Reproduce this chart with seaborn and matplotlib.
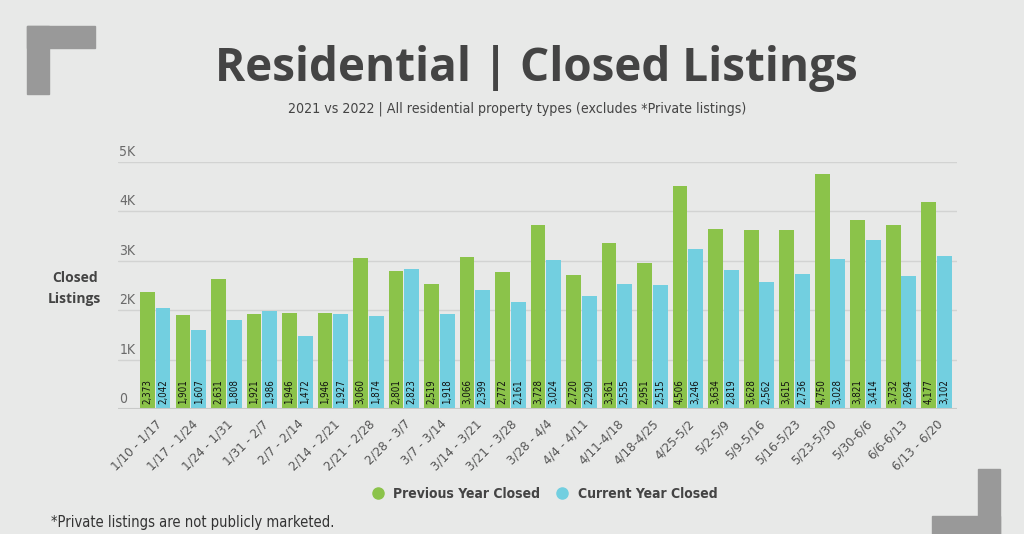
import pandas as pd
import matplotlib.pyplot as plt
import seaborn as sns
from matplotlib.patches import Rectangle
from matplotlib.lines import Line2D

weeks = ["1/10 - 1/17", "1/17 - 1/24", "1/24 - 1/31", "1/31 - 2/7", "2/7 - 2/14",
         "2/14 - 2/21", "2/21 - 2/28", "2/28 - 3/7", "3/7 - 3/14", "3/14 - 3/21",
         "3/21 - 3/28", "3/28 - 4/4", "4/4 - 4/11", "4/11-4/18", "4/18-4/25",
         "4/25-5/2", "5/2-5/9", "5/9-5/16", "5/16-5/23", "5/23-5/30",
         "5/30-6/6", "6/6-6/13", "6/13 - 6/20"]
prev_year = [2373, 1901, 2631, 1921, 1946, 1946, 3060, 2801, 2519, 3066, 2772,
             3728, 2720, 3361, 2951, 4506, 3634, 3628, 3615, 4750, 3821, 3732, 4177]
curr_year = [2042, 1607, 1808, 1986, 1472, 1927, 1874, 2823, 1918, 2399, 2161,
             3024, 2290, 2535, 2515, 3246, 2819, 2562, 2736, 3028, 3414, 2694, 3102]

GREEN = "#8bc34a"
BLUE = "#72cfe0"
BG = "#e8e9e8"
DARK = "#444444"
COND = dict(family="DejaVu Sans", stretch="condensed")

df = pd.DataFrame({
    "week": weeks * 2,
    "value": prev_year + curr_year,
    "series": ["Previous Year Closed"] * len(weeks) + ["Current Year Closed"] * len(weeks),
})

sns.set_theme(style="white")
plt.rcParams['font.family'] = ['Open Sans', 'DejaVu Sans']

fig = plt.figure(figsize=(10.24, 5.34), dpi=100, facecolor=BG)
ax = fig.add_axes([0.115, 0.234, 0.8195, 0.463])
ax.set_facecolor(BG)

sns.barplot(data=df, x="week", y="value", hue="series", order=weeks,
            palette=[GREEN, BLUE], saturation=1, width=0.88, gap=0.05, legend=False,
            ax=ax, edgecolor="none")

n = len(weeks)
ax.set_xlim(-1.056, n - 1 + 0.577)
ax.set_ylim(0, 5000)
for s in ax.spines.values():
    s.set_visible(False)
for v in [1000, 2000, 3000, 4000, 5000]:
    ax.axhline(v, color="#d2d3d2", lw=1, zorder=0)
ax.axhline(0, color="#c8c9c8", lw=1.5, zorder=3)

ax.set_yticks([])
ytr = ax.get_yaxis_transform()
for v, lab in zip([0, 1000, 2000, 3000, 4000, 5000], ["0", "1K", "2K", "3K", "4K", "5K"]):
    ax.text(0.002, v + 60, lab, transform=ytr, ha="left", va="bottom",
            fontsize=10, color="#6a6a6a", **COND)

# value labels inside bars
for cont in ax.containers:
    for bar in cont:
        h = bar.get_height()
        ax.text(bar.get_x() + bar.get_width() / 2, 110, f"{int(h):,}",
                rotation=90, ha="center", va="bottom", fontsize=7, color="#111111",
                **COND)

ax.set_xlabel("")
ax.set_ylabel("")
ax.tick_params(axis="x", length=0, pad=6)
ax.set_xticks(range(n))
ax.set_xticklabels(weeks, rotation=45, ha="right", rotation_mode="anchor",
                   fontsize=9.5, color="#555555", **COND)

fig.text(0.073, 0.46, "Closed\nListings", ha="center", va="center", fontsize=10,
         fontweight="bold", color=DARK, linespacing=1.6)

fig.text(0.524, 0.872, "Residential | Closed Listings", ha="center", va="center",
         fontsize=33, fontweight="bold", color=DARK)
fig.text(0.505, 0.797, "2021 vs 2022 | All residential property types (excludes *Private listings)",
         ha="center", va="center", fontsize=10.2, color="#444444", **COND)

handles = [Line2D([], [], marker="o", ls="none", color=GREEN, markersize=8),
           Line2D([], [], marker="o", ls="none", color=BLUE, markersize=8)]
fig.legend(handles, ["Previous Year Closed", "Current Year Closed"], loc="center",
           bbox_to_anchor=(0.528, 0.075), ncol=2, frameon=False, handletextpad=0.1,
           columnspacing=0.6, prop={"family": "DejaVu Sans", "stretch": "condensed",
                                    "size": 10, "weight": "bold"}, labelcolor=DARK)

fig.text(0.05, 0.022, "*Private listings are not publicly marketed.", ha="left", va="center",
         fontsize=10.5, color="#333333", **COND)

# corner decorations (pixel coords)
W, H = 1024, 534
def rect(x0, y0, x1, y1):
    fig.patches.append(Rectangle((x0 / W, 1 - y1 / H), (x1 - x0) / W, (y1 - y0) / H,
                                 transform=fig.transFigure, color="#999999", zorder=0))
rect(27, 26, 95, 48)
rect(27, 26, 49, 94)
rect(978, 469, 1000, 534)
rect(932, 516, 1000, 534)

fig.savefig("out.png", dpi=100, facecolor=BG)
